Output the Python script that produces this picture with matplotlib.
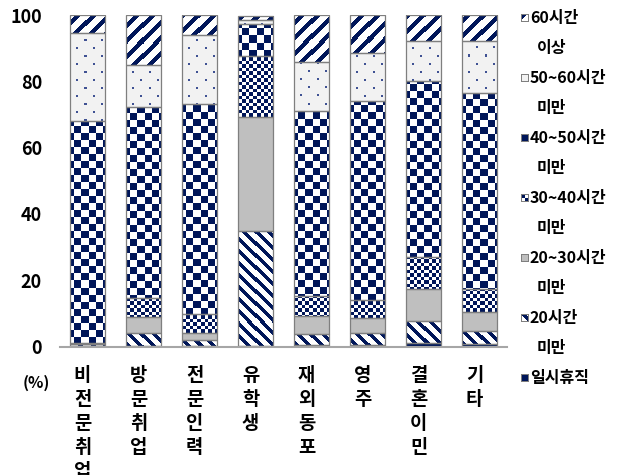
import numpy as np
import matplotlib as mpl
mpl.use('Agg')
import matplotlib.pyplot as plt
from matplotlib.transforms import ScaledTranslation

plt.rcParams['font.family'] = ['Noto Sans CJK KR', 'DejaVu Sans']

groups = ['비전문취업', '방문취업', '전문인력', '유학생', '재외동포', '영주', '결혼이민', '기타']

# share of workers by weekly working hours (%), bottom to top
h_leave = [0.2, 0.3, 0.3, 0.2, 0.4, 0.5, 1.0, 0.7]          # 일시휴직
h_lt20 = [0.6, 3.8, 1.7, 34.7, 3.4, 3.6, 6.8, 4.1]          # 20시간 미만
h_20_30 = [0.1, 4.7, 2.0, 34.4, 5.3, 4.5, 9.5, 5.5]         # 20~30시간 미만
h_30_40 = [0.2, 5.9, 5.7, 18.3, 6.0, 5.3, 9.8, 7.1]         # 30~40시간 미만
h_40_50 = [67.0, 57.6, 63.5, 9.7, 55.9, 60.3, 53.1, 59.0]   # 40~50시간 미만
h_50_60 = [26.5, 12.6, 20.8, 1.2, 14.8, 14.3, 12.0, 15.9]   # 50~60시간 미만
h_60 = [5.4, 15.1, 6.0, 1.2, 14.2, 11.5, 7.8, 7.7]          # 60시간 이상

legend_lines = ['60시간', '이상', '50~60시간', '미만', '40~50시간', '미만',
                '30~40시간', '미만', '20~30시간', '미만', '20시간', '미만', '일시휴직']

NAVY = np.array([0.0, 0.09, 0.35])
GRAY = np.array([0.75, 0.75, 0.75])
EDGE = '#7f7f7f'


def texture(kind, h, w):
    i, j = np.mgrid[0:h, 0:w]
    img = np.ones((h, w, 3))
    if kind == 'fwd':
        mask = (i + j) % 15 < 6
    elif kind == 'back':
        mask = (j - i) % 12 < 5
    elif kind == 'check':
        mask = ((i // 7) + (j // 7)) % 2 == 0
    elif kind == 'small':
        mask = (np.floor(i / 3.5) + np.floor(j / 3.5)) % 2 == 0
    elif kind == 'dots':
        img[:] = 0.95
        mask = (((i % 16) < 2) & ((j % 16) < 2)) | ((((i + 8) % 16) < 2) & (((j + 8) % 16) < 2))
        img[mask] = [0.25, 0.32, 0.58]
        return img
    elif kind == 'solid_navy':
        img[:] = NAVY
        return img
    elif kind == 'solid_gray':
        img[:] = GRAY
        return img
    img[mask] = NAVY
    return img


W_PX, H_PX = 621, 475
fig = plt.figure(figsize=(W_PX / 100, H_PX / 100), dpi=100)
ax_l, ax_r, ax_t, ax_b = 60, 507, 15, 346.5
ax = fig.add_axes([ax_l / W_PX, (H_PX - ax_b) / H_PX, (ax_r - ax_l) / W_PX, (ax_b - ax_t) / H_PX])
aw, ah = int(ax_r - ax_l), int(round(ax_b - ax_t))
x0, x1 = -0.49, 7.49

x = np.arange(len(groups))
width = 0.625
series = [h_leave, h_lt20, h_20_30, h_30_40, h_40_50, h_50_60, h_60]
kinds = ['solid_navy', 'back', 'solid_gray', 'small', 'check', 'dots', 'fwd']

bottom = np.zeros(len(groups))
for vals, kind in zip(series, kinds):
    vals = np.asarray(vals, dtype=float)
    if kind == 'solid_navy':
        face = NAVY
    elif kind == 'solid_gray':
        face = GRAY
    else:
        face = 'white'
    bars = ax.bar(x, vals, width, bottom=bottom, color=face, linewidth=0, zorder=2)
    if not kind.startswith('solid'):
        tex = texture(kind, ah, aw)
        for rect in bars:
            im = ax.imshow(tex, extent=(x0, x1, 0, 100), aspect='auto',
                           interpolation='nearest', zorder=2.1)
            im.set_clip_path(rect)
    ax.bar(x, vals, width, bottom=bottom, fill=False, edgecolor=EDGE, linewidth=0.9, zorder=3)
    bottom += vals

ax.set_xlim(x0, x1)
ax.set_ylim(0, 100)
for s in ['top', 'right', 'left']:
    ax.spines[s].set_visible(False)
ax.spines['bottom'].set_color('#a6a6a6')
ax.spines['bottom'].set_linewidth(1.5)
ax.spines['bottom'].set_zorder(4)

ax.set_yticks(range(0, 101, 20))
ax.set_yticklabels([str(v) for v in range(0, 101, 20)], fontsize=13, fontweight='bold')
ax.tick_params(axis='y', length=0, pad=13)
ax.set_xticks(x)
ax.set_xticklabels(['\n'.join(g) for g in groups], fontsize=13.5, fontweight='bold',
                   linespacing=1.33, va='top')
ax.tick_params(axis='x', length=0, pad=14)
shift = ScaledTranslation(-0.05, 0, fig.dpi_scale_trans)
for lbl in ax.get_xticklabels():
    lbl.set_transform(lbl.get_transform() + shift)

fig.text(36 / W_PX, 1 - 383 / H_PX, '(%)', ha='center', va='center',
         fontsize=11.5, fontweight='bold')

# legend drawn as text lines with small swatches
swatch_kinds = ['fwd', 'dots', 'check', 'small', 'solid_gray', 'back', 'solid_navy']
for k, line in enumerate(legend_lines):
    yc = 18 + 30 * k
    if k % 2 == 0:
        fig.text(530 / W_PX, 1 - yc / H_PX, line, ha='left', va='center',
                 fontsize=11.5, fontweight='bold')
        sw = texture(swatch_kinds[k // 2], 8, 8)
        if swatch_kinds[k // 2] == 'dots':
            sw[:] = 0.95
        sw[0, :] = sw[-1, :] = sw[:, 0] = sw[:, -1] = 0.5
        fig.figimage(sw, xo=521, yo=H_PX - yc - 4, origin='upper', zorder=5)
    else:
        fig.text(537 / W_PX, 1 - yc / H_PX, line, ha='left', va='center',
                 fontsize=11.5, fontweight='bold')

fig.savefig('out.png', dpi=100)
